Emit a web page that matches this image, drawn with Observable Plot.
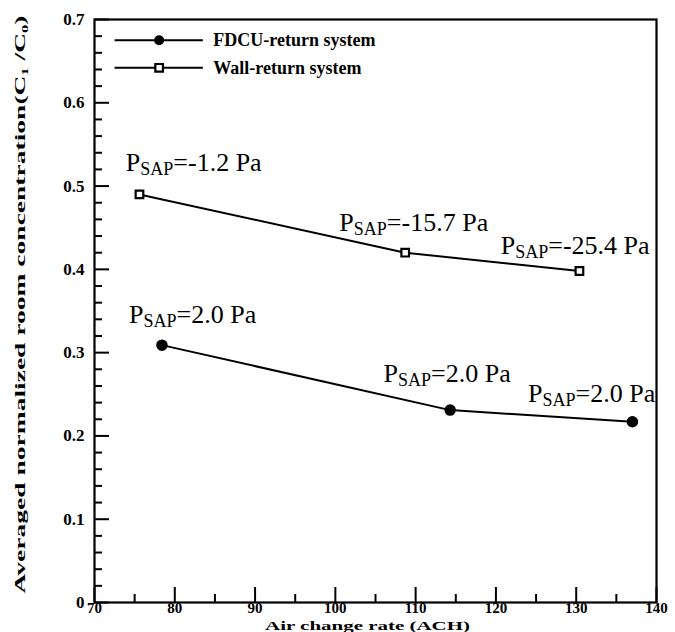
<!DOCTYPE html>
<html><head><meta charset="utf-8">
<script src="https://cdn.jsdelivr.net/npm/d3@7"></script>
<script src="https://cdn.jsdelivr.net/npm/@observablehq/plot@0.6"></script>
<style>body{margin:0;background:#fff}</style>
</head><body><div id="chart"></div>
<script>
// Series
const fdcuName = "FDCU-return system";
const wallName = "Wall-return system";
const fdcuX = [78.4, 114.3, 137.0];
const fdcuY = [0.309, 0.231, 0.217];
const wallX = [75.6, 108.7, 130.4];
const wallY = [0.490, 0.420, 0.398];
// Annotations (text and anchor in data units)
const wallLabels = ["PSAP=-1.2 Pa", "PSAP=-15.7 Pa", "PSAP=-25.4 Pa"];
const wallLabelX = [73.9, 100.5, 120.6];
const wallLabelY = [0.518, 0.446, 0.418];
const fdcuLabels = ["PSAP=2.0 Pa", "PSAP=2.0 Pa", "PSAP=2.0 Pa"];
const fdcuLabelX = [74.3, 106.0, 124.0];
const fdcuLabelY = [0.335, 0.265, 0.2405];
// Ticks
const xTicks = [70, 80, 90, 100, 110, 120, 130, 140];
const xMinor = [75, 85, 95, 105, 115, 125, 135];
const yTicks = [0, 0.1, 0.2, 0.3, 0.4, 0.5, 0.6, 0.7];
const yMinor = [0.02, 0.04, 0.06, 0.08, 0.12, 0.14, 0.16, 0.18, 0.22, 0.24, 0.26, 0.28,
  0.32, 0.34, 0.36, 0.38, 0.42, 0.44, 0.46, 0.48, 0.52, 0.54, 0.56, 0.58, 0.62, 0.64, 0.66, 0.68];
const xTitle = "Air change rate (ACH)";
const yTitle = "Averaged normalized room concentration(C\u2081 /C\u2080)";

const fdcu = fdcuX.map((x, i) => ({x, y: fdcuY[i]}));
const wall = wallX.map((x, i) => ({x, y: wallY[i]}));
const wallAnn = wallLabels.map((t, i) => ({t, x: wallLabelX[i], y: wallLabelY[i]}));
const fdcuAnn = fdcuLabels.map((t, i) => ({t, x: fdcuLabelX[i], y: fdcuLabelY[i]}));

const serif = "'Liberation Serif', 'Times New Roman', serif";

const plot = Plot.plot({
  width: 675, height: 632,
  marginLeft: 94, marginRight: 19, marginTop: 19, marginBottom: 30,
  x: {domain: [70, 140]},
  y: {domain: [0, 0.7]},
  style: {fontFamily: serif, background: "white", color: "black"},
  marks: [
    Plot.axisX({ticks: xMinor, tickSize: -8, fill: "none", strokeWidth: 2, label: null}),
    Plot.axisX({ticks: xTicks, tickSize: -15, tickPadding: 15, fontSize: 15, fontWeight: "bold", strokeWidth: 2, label: null, tickFormat: d => String(d)}),
    Plot.axisY({ticks: yMinor, tickSize: -8, fill: "none", strokeWidth: 2, label: null}),
    Plot.axisY({ticks: yTicks, tickSize: -15, tickPadding: 25, fontSize: 17, fontWeight: "bold", strokeWidth: 2, label: null, tickFormat: d => String(d)}),
    Plot.frame({strokeWidth: 2.2}),
    Plot.line(wall, {x: "x", y: "y", stroke: "black", strokeWidth: 2}),
    Plot.line(fdcu, {x: "x", y: "y", stroke: "black", strokeWidth: 2}),
    Plot.dot(wall, {x: "x", y: "y", symbol: "square", r: 4.3, fill: "white", stroke: "black", strokeWidth: 2.2}),
    Plot.dot(fdcu, {x: "x", y: "y", symbol: "circle", r: 5, fill: "black", stroke: "black"}),
    Plot.text(wallAnn, {x: "x", y: "y", text: "t", textAnchor: "start", lineAnchor: "bottom", fontSize: 26, fill: "black"}),
    Plot.text(fdcuAnn, {x: "x", y: "y", text: "t", textAnchor: "start", lineAnchor: "bottom", fontSize: 26, fill: "black"}),
    // legend
    Plot.link([{n: fdcuName, y: 0.675}, {n: wallName, y: 0.642}], {x1: 72.5, x2: 83.5, y1: "y", y2: "y", stroke: "black", strokeWidth: 2}),
    Plot.dot([{y: 0.675}], {x: 78.05, y: "y", r: 5, fill: "black"}),
    Plot.dot([{y: 0.642}], {x: 78.05, y: "y", symbol: "square", r: 4.3, fill: "white", stroke: "black", strokeWidth: 2.2}),
    Plot.text([{n: fdcuName, y: 0.675}, {n: wallName, y: 0.642}], {x: 84.8, y: "y", text: "n", textAnchor: "start", lineAnchor: "middle", fontSize: 18, fontWeight: "bold", fill: "black"}),
    // titles
    Plot.text([xTitle], {frameAnchor: "bottom", text: d => d, dx: -8, dy: 27, lineAnchor: "bottom", fontSize: 13, fontWeight: "bold", fill: "black"}),
    Plot.text([yTitle], {frameAnchor: "bottom-left", text: d => d, rotate: -90, dx: -74, dy: -9, textAnchor: "start", lineAnchor: "middle", fontSize: 15, fontWeight: "bold", fill: "black"})
  ]
});

const svg = d3.select(plot);
svg.selectAll("text").each(function () {
  const t = d3.select(this);
  const s = this.textContent;
  if (s.startsWith("PSAP")) {
    const rest = s.slice(4);
    t.text(null);
    t.append("tspan").text("P");
    t.append("tspan").attr("font-size", 18).attr("dy", 4).text("SAP");
    t.append("tspan").attr("dy", -4).text(rest);
  } else if (s === xTitle) {
    t.attr("textLength", 205).attr("lengthAdjust", "spacingAndGlyphs");
  } else if (s === yTitle) {
    t.attr("textLength", 578).attr("lengthAdjust", "spacingAndGlyphs");
  }
});
document.getElementById("chart").appendChild(plot);
</script>
</body></html>
